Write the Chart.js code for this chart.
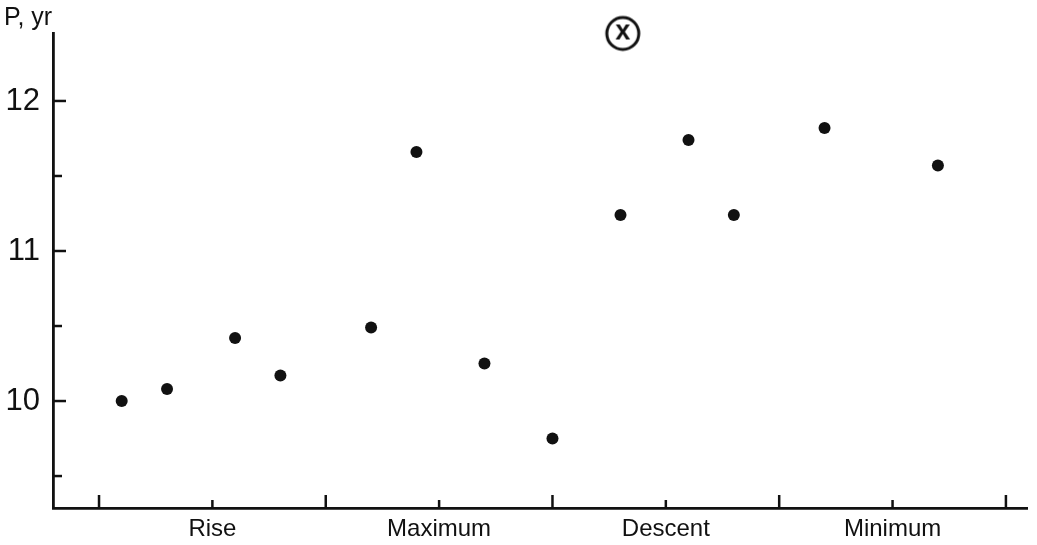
<!DOCTYPE html>
<html>
<head>
<meta charset="utf-8">
<script src="https://cdn.jsdelivr.net/npm/chart.js@4"></script>
<style>
  html, body { margin: 0; padding: 0; background: #fff; }
  #wrap { width: 1037px; height: 545px; position: relative; }
</style>
</head>
<body>
<div id="wrap"><canvas id="chart"></canvas></div>
<script>
// Phase categories (centred on half steps of the x scale)
const categories = ['Rise', 'Maximum', 'Descent', 'Minimum'];
// Phase position of each measurement (0..4 across the four phases)
const phaseX = [0.1, 0.3, 0.6, 0.8, 1.2, 1.4, 1.7, 2.0, 2.3, 2.6, 2.8, 3.2, 3.7];
// Period P, years
const periodY = [10.0, 10.08, 10.42, 10.17, 10.49, 11.66, 10.25, 9.75, 11.24, 11.74, 11.24, 11.82, 11.57];
// Circled marker
const markX = [2.31];
const markY = [12.45];
const yTickLabels = [10, 11, 12];

const ink = '#111';

// Circled "x" symbol for the marker
function makeMarker() {
    const c = document.createElement('canvas');
    c.width = 40; c.height = 40;
    const g = c.getContext('2d');
    g.fillStyle = '#fff';
    g.strokeStyle = ink;
    g.lineWidth = 3;
    g.beginPath();
    g.arc(20, 20, 16, 0, Math.PI * 2);
    g.fill();
    g.stroke();
    g.fillStyle = ink;
    g.font = 'bold 27px "Liberation Sans", Arial, sans-serif';
    g.textAlign = 'center';
    g.textBaseline = 'middle';
    g.fillText('x', 20, 18.5);
    return c;
}

// Draw inward tick marks and the "P, yr" label
const inwardTicks = {
    id: 'inwardTicks',
    afterDraw(chart) {
        const ctx = chart.ctx;
        const xs = chart.scales.x;
        const ys = chart.scales.y;
        const area = chart.chartArea;
        ctx.save();
        ctx.strokeStyle = ink;
        ctx.lineWidth = 2.5;
        ys.ticks.forEach(t => {
            const py = ys.getPixelForValue(t.value);
            const len = Number.isInteger(t.value) ? 13 : 9;
            ctx.beginPath();
            ctx.moveTo(area.left, py);
            ctx.lineTo(area.left + len, py);
            ctx.stroke();
        });
        xs.ticks.forEach(t => {
            const px = xs.getPixelForValue(t.value);
            const len = Number.isInteger(t.value) ? 13 : 8;
            ctx.beginPath();
            ctx.moveTo(px, area.bottom);
            ctx.lineTo(px, area.bottom - len);
            ctx.stroke();
        });
        ctx.fillStyle = ink;
        ctx.font = '25px "Liberation Sans", Arial, sans-serif';
        ctx.textAlign = 'left';
        ctx.textBaseline = 'alphabetic';
        ctx.fillText('P, yr', 4, 25);
        ctx.restore();
    }
};

document.addEventListener('DOMContentLoaded', function() {
    initializeChart();
});

function initializeChart() {
    const canvas = document.getElementById('chart');
    new Chart(canvas, {
        type: 'scatter',
        data: {
            datasets: [
                {
                    data: phaseX.map((x, i) => ({ x: x, y: periodY[i] })),
                    pointRadius: 6,
                    pointHoverRadius: 6,
                    pointBackgroundColor: ink,
                    pointBorderWidth: 0
                },
                {
                    data: markX.map((x, i) => ({ x: x, y: markY[i] })),
                    pointStyle: makeMarker(),
                    clip: false
                }
            ]
        },
        options: {
            responsive: true,
            maintainAspectRatio: false,
            animation: false,
            layout: { padding: { top: 33, right: 10, left: 0, bottom: 0 } },
            plugins: {
                legend: { display: false },
                tooltip: { enabled: false }
            },
            scales: {
                x: {
                    type: 'linear',
                    min: -0.203,
                    max: 4.093,
                    afterFit: s => { s.height = 37; },
                    afterBuildTicks: s => {
                        s.ticks = [0, 0.5, 1, 1.5, 2, 2.5, 3, 3.5, 4].map(v => ({ value: v }));
                    },
                    grid: { display: false, drawTicks: false },
                    border: { display: true, color: ink, width: 2.8 },
                    ticks: {
                        padding: 7,
                        autoSkip: false,
                        maxRotation: 0,
                        color: ink,
                        font: { family: '"Liberation Sans", Arial, sans-serif', size: 24 },
                        callback: v => Number.isInteger(v) ? '' : categories[Math.floor(v)]
                    }
                },
                y: {
                    min: 9.287,
                    max: 12.453,
                    afterFit: s => { s.width = 53; },
                    grid: { display: false, drawTicks: false },
                    border: { display: true, color: ink, width: 2.8 },
                    ticks: {
                        stepSize: 0.5,
                        includeBounds: false,
                        padding: 13,
                        color: ink,
                        font: { family: '"Liberation Sans", Arial, sans-serif', size: 31 },
                        callback: v => yTickLabels.includes(v) ? String(v) : ''
                    }
                }
            }
        },
        plugins: [inwardTicks]
    });
}
</script>
</body>
</html>
